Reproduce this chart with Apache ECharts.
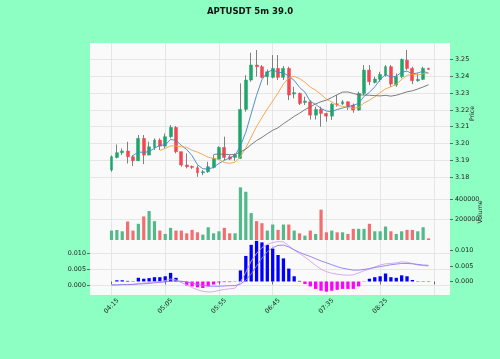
<!DOCTYPE html>
<html><head><meta charset="utf-8">
<script src="https://cdn.jsdelivr.net/npm/echarts@6/dist/echarts.min.js"></script>
<style>html,body{margin:0;padding:0;background:#8effc3;} #c{width:500px;height:359px;}</style>
</head><body><div id="c"></div>
<script>
const times = ['04:15','04:20','04:25','04:30','04:35','04:40','04:45','04:50','04:55','05:00',
'05:05','05:10','05:15','05:20','05:25','05:30','05:35','05:40','05:45','05:50',
'05:55','06:00','06:05','06:10','06:15','06:20','06:25','06:30','06:35','06:40',
'06:45','06:50','06:55','07:00','07:05','07:10','07:15','07:20','07:25','07:30',
'07:35','07:40','07:45','07:50','07:55','08:00','08:05','08:10','08:15','08:20',
'08:25','08:30','08:35','08:40','08:45','08:50','08:55','09:00','09:05','09:10'];
const openP = [3.1843,3.1918,3.1946,3.1956,3.1922,3.1898,3.2031,3.1932,3.1977,3.2021,
3.1985,3.2041,3.2096,3.1952,3.1873,3.1865,3.1857,3.1827,3.1833,3.1859,
3.1908,3.1977,3.1922,3.1918,3.1912,3.2203,3.2377,3.2466,3.2456,3.2397,
3.2393,3.2446,3.2393,3.2446,3.2294,3.2298,3.2244,3.2248,3.2169,3.2203,
3.2179,3.2163,3.2236,3.2236,3.2248,3.2229,3.2199,3.2298,3.2436,3.2363,
3.2381,3.2406,3.2456,3.2347,3.2397,3.2495,3.2446,3.2373,3.2381,3.2446];
const closeP = [3.1922,3.1946,3.1956,3.1922,3.1898,3.2031,3.1932,3.1981,3.2021,3.1985,
3.2041,3.2096,3.1952,3.1873,3.1863,3.1859,3.1827,3.1833,3.1863,3.1912,
3.1977,3.1918,3.1908,3.1932,3.2203,3.2377,3.2466,3.2456,3.2393,3.2426,
3.2446,3.2393,3.2446,3.2288,3.2302,3.2238,3.2252,3.2169,3.2203,3.2179,
3.2163,3.2234,3.2232,3.2248,3.2219,3.2199,3.2298,3.2436,3.2367,3.2383,
3.2410,3.2456,3.2353,3.2397,3.2499,3.2446,3.2373,3.2381,3.2446,3.2440];
const lowP = [3.1833,3.1912,3.1932,3.1882,3.1867,3.1898,3.1879,3.1932,3.1962,3.1962,
3.1971,3.2031,3.1942,3.1863,3.1853,3.1850,3.1803,3.1813,3.1827,3.1853,
3.1902,3.1902,3.1902,3.1898,3.1912,3.2189,3.2367,3.2397,3.2387,3.2347,
3.2387,3.2377,3.2377,3.2258,3.2268,3.2229,3.2229,3.2143,3.2143,3.2100,
3.2130,3.2140,3.2219,3.2229,3.2199,3.2183,3.2195,3.2288,3.2347,3.2357,
3.2367,3.2397,3.2337,3.2337,3.2387,3.2436,3.2353,3.2367,3.2377,3.2438];
const highP = [3.1930,3.1995,3.1971,3.2011,3.1932,3.2051,3.2051,3.2011,3.2031,3.2031,
3.2060,3.2110,3.2104,3.1952,3.1942,3.1870,3.1870,3.1843,3.1892,3.1932,
3.1985,3.2041,3.1932,3.1942,3.2357,3.2406,3.2539,3.2555,3.2466,3.2440,
3.2525,3.2525,3.2460,3.2456,3.2337,3.2302,3.2278,3.2258,3.2219,3.2219,
3.2183,3.2242,3.2288,3.2258,3.2252,3.2238,3.2308,3.2466,3.2466,3.2397,
3.2426,3.2466,3.2466,3.2416,3.2505,3.2555,3.2456,3.2416,3.2456,3.2450];
const volume = [93000,99000,86000,183000,93000,160000,233000,286000,186000,93000,
60000,120000,93000,93000,66000,100000,76000,53000,126000,66000,
86000,120000,66000,66000,520000,476000,266000,186000,166000,93000,
153000,100000,153000,153000,93000,66000,43000,93000,60000,300000,
76000,93000,76000,76000,60000,110000,110000,110000,160000,86000,
86000,133000,86000,60000,86000,100000,100000,86000,126000,16000];
const macdLine = [0.0000,0.0001,0.0002,0.0002,0.0002,0.0005,0.0006,0.0008,0.0010,0.0011,
0.0014,0.0019,0.0016,0.0008,0.0000,-0.0008,-0.0015,-0.0020,-0.0022,-0.0021,
-0.0017,-0.0014,-0.0012,-0.0010,0.0010,0.0040,0.0075,0.0100,0.0118,0.0128,
0.0134,0.0137,0.0136,0.0124,0.0110,0.0100,0.0088,0.0075,0.0062,0.0050,
0.0042,0.0037,0.0034,0.0032,0.0031,0.0032,0.0038,0.0045,0.0050,0.0057,
0.0063,0.0067,0.0068,0.0070,0.0073,0.0072,0.0068,0.0063,0.0061,0.0060];
const signalLine = [0.0000,0.0000,0.0001,0.0001,0.0002,0.0003,0.0004,0.0005,0.0007,0.0008,
0.0010,0.0012,0.0013,0.0012,0.0010,0.0006,0.0002,-0.0001,-0.0003,-0.0004,
-0.0004,-0.0003,-0.0002,-0.0002,0.0003,0.0015,0.0035,0.0060,0.0085,0.0105,
0.0118,0.0125,0.0126,0.0120,0.0111,0.0103,0.0096,0.0090,0.0083,0.0076,
0.0070,0.0064,0.0058,0.0053,0.0050,0.0047,0.0047,0.0049,0.0052,0.0055,
0.0058,0.0061,0.0064,0.0066,0.0068,0.0068,0.0067,0.0065,0.0063,0.0062];
const macdHist = [0.0000,0.0004,0.0004,0.0002,0.0001,0.0012,0.0009,0.0011,0.0014,0.0014,
0.0017,0.0028,0.0012,-0.0002,-0.0013,-0.0016,-0.0019,-0.0021,-0.0016,-0.0010,
-0.0003,-0.0002,-0.0002,-0.0001,0.0036,0.0083,0.0119,0.0132,0.0127,0.0119,
0.0107,0.0086,0.0075,0.0042,0.0017,0.0002,-0.0008,-0.0016,-0.0024,-0.0030,
-0.0033,-0.0030,-0.0027,-0.0024,-0.0024,-0.0024,-0.0016,-0.0001,0.0009,0.0014,
0.0017,0.0026,0.0014,0.0012,0.0020,0.0017,0.0005,0.0001,0.0001,0.0001];
const maPeriods = [5, 10, 20];
const maColors = ['#3d86c6', '#f5a043', '#6e6e6e'];
const priceTicks = [3.18,3.19,3.20,3.21,3.22,3.23,3.24,3.25];
const volumeTicks = [200000, 400000];
const macdTicks = [0, 0.005, 0.010];
const xTickStep = 10;

const PADL = 4, PADR = 4;
const N = times.length;
const cats = Array(PADL).fill('').concat(times, Array(PADR).fill(''));
const pad = arr => Array(PADL).fill('-').concat(arr, Array(PADR).fill('-'));
const isTick = idx => { const k = idx - PADL; return k >= 0 && k <= N && k % xTickStep === 0; };

function sma(n) {
  return closeP.map((_, i) => {
    if (i < n - 1) return '-';
    let s = 0; for (let j = i - n + 1; j <= i; j++) s += closeP[j];
    return +(s / n).toFixed(5);
  });
}

const UP = '#1fa46c', DOWN = '#f04752';
const VUP = '#52b98b', VDOWN = '#f26f70';
const wickData = pad(openP.map((o, i) => [o, closeP[i], lowP[i], highP[i]]));
const bodyData = pad(openP.map((o, i) => [o, closeP[i], Math.min(o, closeP[i]), Math.max(o, closeP[i])]));
const volData = pad(volume.map((v, i) => ({value: v, itemStyle: {color: closeP[i] >= openP[i] ? VUP : VDOWN}})));
const histData = pad(macdHist.map(h => ({value: h, itemStyle: {color: h >= 0 ? '#0000ff' : '#ff00ff'}})));

const FONT = 'DejaVu Sans';
const lab = {fontFamily: FONT, fontSize: 6.4, color: '#222'};
const gridLine = {show: true, lineStyle: {color: '#e1e1e1', width: 0.8}};
const tickStyle = {lineStyle: {color: '#333', width: 0.7}, length: 3};

function xAx(gi, showLabel) {
  return {
    type: 'category', gridIndex: gi, data: cats, boundaryGap: false,
    axisLine: {show: false},
    axisTick: showLabel ? Object.assign({show: true, interval: isTick}, tickStyle) : {show: false},
    axisLabel: showLabel ? Object.assign({show: true, interval: isTick, rotate: 45, align: 'center', verticalAlign: 'middle', margin: 11}, lab) : {show: false},
    splitLine: Object.assign({interval: isTick}, gridLine)
  };
}

const chart = echarts.init(document.getElementById('c'), null, {renderer: 'canvas'});
const grids = [
  {left: 90, right: 50, top: 43, height: 141},
  {left: 90, right: 50, top: 184, height: 56},
  {left: 90, right: 50, top: 240, height: 55}
].map(g => Object.assign({show: true, backgroundColor: '#fafafa', borderWidth: 0}, g));

const series = [
  {type: 'candlestick', xAxisIndex: 0, yAxisIndex: 0, data: wickData, barWidth: 1,
   itemStyle: {color: '#808080', color0: '#808080', borderColor: '#808080', borderColor0: '#808080', borderWidth: 1}},
  {type: 'candlestick', xAxisIndex: 0, yAxisIndex: 0, data: bodyData, barWidth: 3.4,
   itemStyle: {color: UP, color0: DOWN, borderColor: UP, borderColor0: DOWN, borderWidth: 0.5}}
];
maPeriods.forEach((p, k) => series.push({
  type: 'line', xAxisIndex: 0, yAxisIndex: 0, data: pad(sma(p)), showSymbol: false, symbol: 'none',
  lineStyle: {color: maColors[k], width: 0.9}, z: 3
}));
series.push({type: 'bar', xAxisIndex: 1, yAxisIndex: 1, data: volData, barWidth: 3.2});
series.push({type: 'bar', xAxisIndex: 2, yAxisIndex: 2, data: histData, barWidth: 3.3});
series.push({type: 'line', xAxisIndex: 2, yAxisIndex: 3, data: pad(macdLine), symbol: 'none', lineStyle: {color: '#d7a2e6', width: 0.9}, z: 4});
series.push({type: 'line', xAxisIndex: 2, yAxisIndex: 3, data: pad(signalLine), symbol: 'none', lineStyle: {color: '#8b7cf0', width: 0.9}, z: 4});

chart.setOption({
  animation: false,
  backgroundColor: '#8effc3',
  title: {text: 'APTUSDT 5m 39.0', left: 'center', top: 2,
    textStyle: {fontFamily: FONT, fontSize: 8.5, fontWeight: 'bold', color: '#111'}},
  grid: grids,
  xAxis: [xAx(0, false), xAx(1, false), xAx(2, true)],
  yAxis: [
    {type: 'value', gridIndex: 0, position: 'right', min: 3.17604, max: 3.25967, scale: true,
     name: 'Price', nameLocation: 'middle', nameRotate: 90, nameGap: 19, nameMoveOverlap: false,
     nameTextStyle: {fontFamily: FONT, fontSize: 6.2, color: '#222'},
     axisLine: {show: false}, axisTick: Object.assign({show: true, customValues: priceTicks}, tickStyle),
     axisLabel: Object.assign({customValues: priceTicks, margin: 5, formatter: v => v.toFixed(2)}, lab),
     splitLine: gridLine},
    {type: 'value', gridIndex: 1, position: 'right', min: 0, max: 553000,
     name: 'Volume', nameLocation: 'middle', nameRotate: 90, nameGap: 27, nameMoveOverlap: false,
     nameTextStyle: {fontFamily: FONT, fontSize: 6.2, color: '#222'},
     axisLine: {show: false}, axisTick: Object.assign({show: true, customValues: volumeTicks}, tickStyle),
     axisLabel: Object.assign({customValues: volumeTicks, margin: 5, formatter: v => String(Math.round(v))}, lab),
     splitLine: gridLine},
    {type: 'value', gridIndex: 2, position: 'right', min: -0.00438, max: 0.01347,
     axisLine: {show: false}, axisTick: Object.assign({show: true, customValues: macdTicks}, tickStyle),
     axisLabel: Object.assign({customValues: macdTicks, margin: 5, formatter: v => v.toFixed(3)}, lab),
     splitLine: {show: false}},
    {type: 'value', gridIndex: 2, position: 'left', min: -0.00315, max: 0.0142,
     axisLine: {show: false}, axisTick: Object.assign({show: true, customValues: macdTicks}, tickStyle),
     axisLabel: Object.assign({customValues: macdTicks, margin: 4, formatter: v => v.toFixed(3)}, lab),
     splitLine: gridLine}
  ],
  series: series
});
</script></body></html>
